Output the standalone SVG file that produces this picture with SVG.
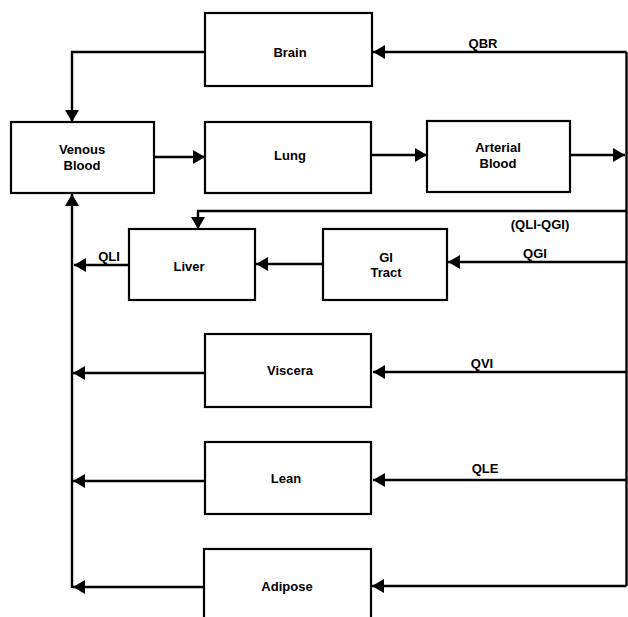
<svg xmlns="http://www.w3.org/2000/svg" width="628" height="617" viewBox="0 0 628 617">
<style>
.box{fill:#fff;stroke:#000;stroke-width:2.2}
.t{font-family:"Liberation Sans",Arial,sans-serif;font-weight:bold;font-size:13px;text-anchor:middle;fill:#000}
.c{fill:none;stroke:#000;stroke-width:2.4}
.ca{fill:none;stroke:#000;stroke-width:2.4;marker-end:url(#ah)}
</style>
<defs>
<marker id="ah" markerUnits="userSpaceOnUse" markerWidth="13" markerHeight="14" refX="12" refY="7" orient="auto">
<path d="M0,0 L12,7 L0,14 z" fill="#000"/>
</marker>
</defs>
<rect width="628" height="617" fill="#fff"/>
<g id="connectors">
<path class="ca" d="M205,52 H72 V122"/>
<path class="ca" d="M154,157 H205"/>
<path class="ca" d="M371,155 H427"/>
<path class="ca" d="M570,155 H625"/>
<path class="c" d="M626.5,52 V586"/>
<path class="ca" d="M626.5,52 H373"/>
<path class="ca" d="M626.5,211 H198 V229"/>
<path class="ca" d="M626.5,262 H448"/>
<path class="ca" d="M323,264 H256"/>
<path class="ca" d="M129,265 H74"/>
<path class="ca" d="M72,588 V194"/>
<path class="ca" d="M626.5,372 H373"/>
<path class="ca" d="M205,373 H73"/>
<path class="ca" d="M626.5,480 H373"/>
<path class="ca" d="M205,481 H73"/>
<path class="ca" d="M626.5,586 H372"/>
<path class="ca" d="M204,587 H73"/>
</g>
<g id="labels">
<text class="t" x="483" y="48">QBR</text>
<text class="t" x="540" y="229">(QLI-QGI)</text>
<text class="t" x="535" y="258">QGI</text>
<text class="t" x="109" y="261">QLI</text>
<text class="t" x="482" y="368">QVI</text>
<text class="t" x="485" y="473">QLE</text>
</g>
<g id="brain"><rect class="box" x="205" y="13" width="167" height="73"/><text class="t" x="290" y="57">Brain</text></g>
<g id="venous"><rect class="box" x="11" y="122" width="143" height="71"/><text class="t" x="82" y="154">Venous</text><text class="t" x="82" y="170">Blood</text></g>
<g id="lung"><rect class="box" x="205" y="122" width="166" height="71"/><text class="t" x="290" y="160">Lung</text></g>
<g id="arterial"><rect class="box" x="427" y="121" width="143" height="71"/><text class="t" x="498" y="152">Arterial</text><text class="t" x="498" y="168">Blood</text></g>
<g id="liver"><rect class="box" x="129" y="229" width="126" height="71"/><text class="t" x="189" y="271">Liver</text></g>
<g id="gi"><rect class="box" x="323" y="229" width="124" height="71"/><text class="t" x="386" y="262">GI</text><text class="t" x="386" y="277">Tract</text></g>
<g id="viscera"><rect class="box" x="205" y="334" width="166" height="73"/><text class="t" x="290" y="375">Viscera</text></g>
<g id="lean"><rect class="box" x="205" y="442" width="166" height="72"/><text class="t" x="286" y="483">Lean</text></g>
<g id="adipose"><rect class="box" x="204" y="549" width="167" height="80"/><text class="t" x="287" y="591">Adipose</text></g>
</svg>
